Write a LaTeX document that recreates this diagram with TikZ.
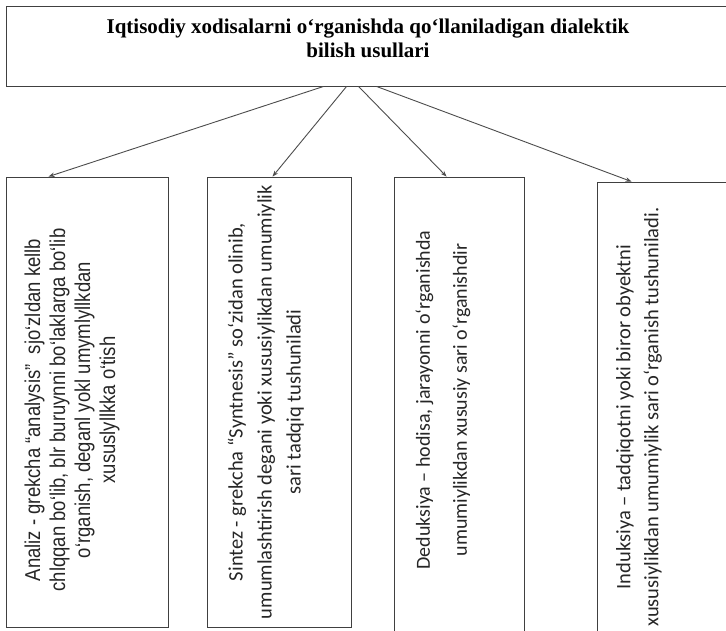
\documentclass[tikz,border=0pt]{standalone}
\usepackage{fontspec}
\setmainfont{Liberation Serif}
\newfontfamily\narrowfont[FakeStretch=0.86]{Liberation Sans}
\newfontfamily\boxfont{Carlito}
\usetikzlibrary{arrows.meta}

\tikzset{
  box/.style={draw=black!75, line width=0.9pt, rectangle, inner sep=0pt},
  arr/.style={draw=black!70, line width=0.9pt, -{Stealth[length=6pt,width=4.5pt]}},
  vtext/.style={rotate=90, align=center, inner sep=0pt, text=black!85},
}

\begin{document}
\begin{tikzpicture}[x=1pt,y=-1pt]
    \clip (0,0) rectangle (726,630);

    % sarlavha
    \node[box, minimum width=722pt, minimum height=80pt] (title) at (367,46) {};
    \node[align=center, font=\bfseries\fontsize{21}{24}\selectfont] (titletext) at (368,38)
        {Iqtisodiy xodisalarni o‘rganishda qo‘llaniladigan dialektik\\ bilish usullari};

    % to'rtta usul
    \node[box, minimum width=162pt, minimum height=450pt] (analiz) at (87,402) {};
    \node[box, minimum width=144pt, minimum height=450pt] (sintez) at (279,402) {};
    \node[box, minimum width=130pt, minimum height=463pt] (deduksiya) at (459,408.5) {};
    \node[box, minimum width=133pt, minimum height=458pt] (induksiya) at (663.5,411) {};

    \node[vtext, font=\narrowfont\fontsize{21.5}{25}\selectfont] (analiztext) at (72,410)
        {Analiz - grekcha “analysis”~ sjo‘zldan kellb\\ chlqqan bo‘lib, blr buruynni bo‘laklarga bo‘lib\\ o‘rganish, deganl yokl umymlyllkdan\\ xususlyllkka o‘tish};
    \node[vtext, font=\boxfont\fontsize{20.5}{29}\selectfont] (sinteztext) at (266,402)
        {Sintez - grekcha “Syntnesis” so‘zidan olinib,\\ umumlashtirish degani yoki xususiylikdan umumiylik\\ sari tadqiq tushuniladi};
    \node[vtext, font=\boxfont\fontsize{20}{37}\selectfont] (deduksiyatext) at (443,400)
        {Deduksiya – hodisa, jarayonni o‘rganishda\\ umumiylikdan xususiy sari o‘rganishdir};
    \node[vtext, font=\boxfont\fontsize{20.5}{28}\selectfont] (induksiyatext) at (639,417)
        {Induksiya – tadqiqotni yoki biror obyektni\\ xususiylikdan umumiylik sari o‘rganish tushuniladi.};

    % strelkalar
    \draw[arr] ([xshift=318pt]title.south west) -- ([xshift=43pt]analiz.north west);
    \draw[arr] ([xshift=341pt]title.south west) -- ([xshift=66pt]sintez.north west);
    \draw[arr] ([xshift=353pt]title.south west) -- ([xshift=53pt]deduksiya.north west);
    \draw[arr] ([xshift=371pt]title.south west) -- ([xshift=35pt]induksiya.north west);
\end{tikzpicture}
\end{document}
